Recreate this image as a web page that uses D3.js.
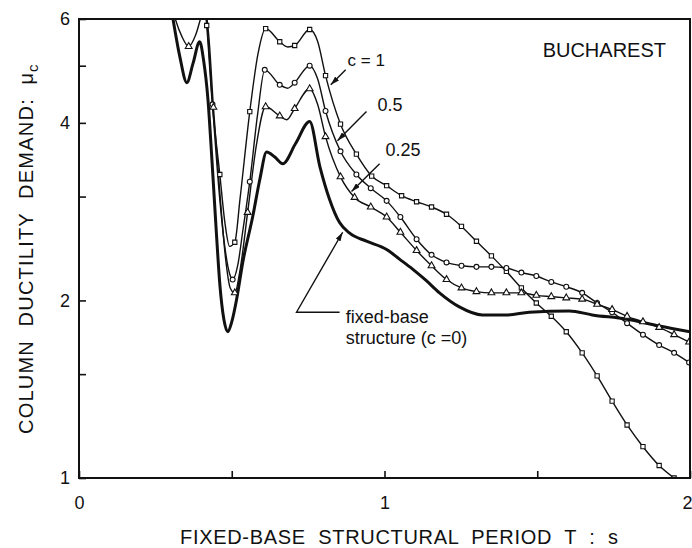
<!DOCTYPE html>
<html><head><meta charset="utf-8">
<script src="https://cdn.jsdelivr.net/npm/d3@7"></script>
<style>
body{margin:0;background:#fff}
text{font-family:"Liberation Sans",Arial,Helvetica,sans-serif;fill:#111}
</style>
</head><body>
<svg id="chart" width="692" height="548"></svg>
<script>
// ---------------- data ----------------
const xTickValues = [0, 0.5, 1, 1.5, 2];
const xTickLabels = {0: "0", 1: "1", 2: "2"};
const yTickValues = [1, 1.5, 2, 3, 4, 5, 6];
const yTickLabels = {1: "1", 2: "2", 4: "4", 6: "6"};

// fixed-base structure (c = 0)
const T_C0  = [0.291,0.307,0.330,0.353,0.373,0.395,0.408,0.422,0.435,0.448,0.461,0.474,0.487,0.500,0.516,0.536,0.569,0.592,0.614,0.641,0.667,0.709,0.755,0.788,0.820,0.853,0.886,0.941,1.007,1.049,1.092,1.137,1.180,1.245,1.320,1.399,1.474,1.605,1.680,1.791,1.899,2.0];
const MU_C0 = [6.8,6.03,5.18,4.68,5.04,5.49,5.10,4.39,3.47,2.69,2.13,1.86,1.77,1.84,2.01,2.32,2.78,3.21,3.57,3.50,3.41,3.69,4.02,3.38,2.97,2.71,2.60,2.52,2.44,2.35,2.26,2.16,2.06,1.95,1.89,1.89,1.91,1.92,1.89,1.86,1.81,1.77];

// c = 1
const T_C1  = [0.395,0.418,0.435,0.461,0.478,0.493,0.510,0.527,0.559,0.586,0.611,0.657,0.683,0.706,0.755,0.781,0.807,0.856,0.908,0.958,1.007,1.056,1.105,1.154,1.203,1.252,1.301,1.350,1.399,1.448,1.497,1.546,1.595,1.647,1.696,1.745,1.794,1.846,1.899,1.948];
const MU_C1 = [7.3,5.85,4.39,3.27,2.70,2.47,2.51,2.97,4.18,5.24,5.78,5.49,5.38,5.41,5.76,5.50,4.81,3.98,3.54,3.25,3.13,3.01,2.94,2.88,2.80,2.67,2.52,2.38,2.24,2.10,1.98,1.88,1.77,1.63,1.49,1.35,1.23,1.13,1.05,1.00];
const MARK_C1 = [0,1,0,1,0,0,1,0,1,0,1,1,0,1,1,0,1,1,1,1,1,1,1,1,1,1,1,1,1,1,1,1,1,1,1,1,1,1,1,1];

// c = 0.5
const T_C05  = [0.395,0.420,0.437,0.460,0.478,0.493,0.503,0.520,0.536,0.559,0.585,0.608,0.657,0.683,0.706,0.755,0.781,0.807,0.856,0.908,0.955,1.007,1.052,1.105,1.154,1.203,1.252,1.301,1.350,1.399,1.448,1.497,1.546,1.595,1.647,1.696,1.745,1.794,1.846,1.899,1.948,1.997];
const MU_C05 = [7.5,5.8,4.3,3.0,2.45,2.22,2.17,2.30,2.62,3.18,4.15,4.92,4.64,4.58,4.68,5.00,4.75,4.19,3.58,3.27,3.10,2.95,2.77,2.54,2.39,2.32,2.29,2.28,2.28,2.27,2.23,2.20,2.15,2.11,2.06,1.98,1.91,1.83,1.75,1.68,1.63,1.57];
const MARK_C05 = [0,0,1,0,0,0,1,0,0,1,0,1,1,0,1,1,0,1,1,1,1,1,1,1,1,1,1,1,1,1,1,1,1,1,1,1,1,1,1,1,1,1];

// c = 0.25
const T_C025  = [0.285,0.314,0.337,0.359,0.382,0.399,0.412,0.425,0.440,0.462,0.480,0.495,0.510,0.527,0.552,0.580,0.611,0.657,0.680,0.706,0.755,0.781,0.807,0.856,0.902,0.955,1.007,1.052,1.105,1.154,1.203,1.252,1.301,1.350,1.399,1.448,1.497,1.546,1.595,1.647,1.696,1.745,1.794,1.846,1.899,1.948,1.997];
const MU_C025 = [7.0,6.03,5.60,5.39,5.64,6.03,6.3,5.6,4.25,3.0,2.35,2.10,2.06,2.25,2.82,3.65,4.26,4.11,4.05,4.23,4.57,4.30,3.79,3.24,2.99,2.88,2.77,2.61,2.43,2.29,2.17,2.10,2.07,2.06,2.06,2.06,2.04,2.03,2.02,2.01,1.97,1.93,1.88,1.84,1.80,1.75,1.70];
const MARK_C025 = [0,0,0,1,0,0,0,0,1,0,0,0,1,0,1,0,1,1,0,1,1,0,1,1,1,1,1,1,1,1,1,1,1,1,1,1,1,1,1,1,1,1,1,1,1,1,1];

// ---------------- chart ----------------
const svg = d3.select("#chart");
const W = 692, H = 548;
const m = {left: 79, right: 2, top: 19, bottom: 70};
const x = d3.scaleLinear().domain([0, 2]).range([m.left, W - m.right]);
const y = d3.scaleLog().domain([1, 6]).range([H - m.bottom, m.top]);

const defs = svg.append("defs");
defs.append("clipPath").attr("id", "plotclip").append("rect")
  .attr("x", x(0)).attr("y", y(6)).attr("width", x(2) - x(0)).attr("height", y(1) - y(6));
defs.append("marker").attr("id", "arrow").attr("viewBox", "0 0 10 6")
  .attr("refX", 10).attr("refY", 3).attr("markerWidth", 9).attr("markerHeight", 5.5)
  .attr("markerUnits", "userSpaceOnUse").attr("orient", "auto")
  .append("path").attr("d", "M0,0 L10,3 L0,6 Z").attr("fill", "#111");

const series = [
  {t: T_C0, mu: MU_C0, mark: null, width: 3.0, shape: null},
  {t: T_C1, mu: MU_C1, mark: MARK_C1, width: 1.4, shape: "square"},
  {t: T_C05, mu: MU_C05, mark: MARK_C05, width: 1.4, shape: "circle"},
  {t: T_C025, mu: MU_C025, mark: MARK_C025, width: 1.4, shape: "triangle"}
];

const line = d3.line().x(d => x(d[0])).y(d => y(d[1])).curve(d3.curveMonotoneX);
const plot = svg.append("g").attr("clip-path", "url(#plotclip)");

series.forEach(s => {
  const pts = d3.zip(s.t, s.mu);
  plot.append("path").datum(pts).attr("d", line)
    .attr("fill", "none").attr("stroke", "#111").attr("stroke-width", s.width)
    .attr("stroke-linejoin", "round");
});
series.forEach(s => {
  if (!s.mark) return;
  const pts = d3.zip(s.t, s.mu, s.mark).filter(d => d[2] && d[1] <= 6.05);
  const sym = s.shape === "square" ? d3.symbolSquare : s.shape === "circle" ? d3.symbolCircle : d3.symbolTriangle;
  const size = s.shape === "square" ? 18 : s.shape === "circle" ? 19 : 20;
  plot.selectAll(null).data(pts).enter().append("path")
    .attr("d", d3.symbol().type(sym).size(size))
    .attr("transform", d => `translate(${x(d[0])},${y(d[1])})`)
    .attr("fill", "#fff").attr("stroke", "#111").attr("stroke-width", 1.1);
});

// axes
const xAxis = d3.axisBottom(x).tickValues(xTickValues).tickSize(-7).tickPadding(18)
  .tickFormat(d => xTickLabels[d] || "");
const gx = svg.append("g").attr("transform", `translate(0,${y(1)})`).call(xAxis);
const yAxis = d3.axisLeft(y).tickValues(yTickValues).tickSize(-7).tickPadding(9)
  .tickFormat(d => yTickLabels[d] || "");
const gy = svg.append("g").attr("transform", `translate(${x(0)},0)`).call(yAxis);
[gx, gy].forEach(g => {
  g.select(".domain").remove();
  g.selectAll(".tick line").attr("stroke", "#111").attr("stroke-width", 1.6);
  g.selectAll(".tick text").attr("font-size", 18).attr("fill", "#111")
    .style("font-family", '"Liberation Sans",Arial,sans-serif');
});
// keep the last x label inside the picture
gx.selectAll(".tick").filter(d => d === 2).select("text").attr("text-anchor", "end").attr("dx", 2);

// frame
svg.append("rect").attr("x", x(0)).attr("y", y(6)).attr("width", x(2) - x(0)).attr("height", y(1) - y(6))
  .attr("fill", "none").attr("stroke", "#111").attr("stroke-width", 2);

// axis titles
svg.append("text").attr("x", 180).attr("y", 544).attr("font-size", 20)
  .attr("textLength", 438).attr("lengthAdjust", "spacing").style("white-space", "pre")
  .text("FIXED-BASE  STRUCTURAL  PERIOD  T  :  s");
const yl = svg.append("g").attr("transform", "translate(33,0) rotate(-90)");
yl.append("text").attr("x", -434).attr("y", 0).attr("font-size", 20)
  .attr("textLength", 361).attr("lengthAdjust", "spacing").style("white-space", "pre")
  .text("COLUMN  DUCTILITY  DEMAND:  \u03BC");
yl.append("text").attr("x", -72).attr("y", 5).attr("font-size", 15).text("c");

// annotations
const ann = svg.append("g");
ann.append("text").attr("x", x(2) - 24).attr("y", y(6) + 38).attr("text-anchor", "end")
  .attr("font-size", 20).text("BUCHAREST");
ann.append("text").attr("x", x(0.879)).attr("y", y(5.0)).attr("font-size", 17)
  .style("white-space", "pre").text("c = 1");
ann.append("text").attr("x", x(0.977)).attr("y", y(4.19)).attr("font-size", 18).text("0.5");
ann.append("text").attr("x", x(1.003)).attr("y", y(3.52)).attr("font-size", 18).text("0.25");
ann.append("text").attr("x", x(0.873)).attr("y", y(1.83)).attr("font-size", 18).text("fixed-base");
ann.append("text").attr("x", x(0.873)).attr("y", y(1.69)).attr("font-size", 18)
  .style("white-space", "pre").text("structure (c =0)");

const arrows = [
  [[0.873, 4.92], [0.824, 4.64]],
  [[0.941, 4.18], [0.846, 3.73]],
  [[0.984, 3.41], [0.892, 3.06]],
  [[0.853, 1.91], [0.712, 1.91], [0.863, 2.61]]
];
const aline = d3.line().x(d => x(d[0])).y(d => y(d[1]));
arrows.forEach(a => {
  ann.append("path").attr("d", aline(a)).attr("fill", "none").attr("stroke", "#111")
    .attr("stroke-width", 1.4).attr("marker-end", "url(#arrow)");
});
</script>
</body></html>
